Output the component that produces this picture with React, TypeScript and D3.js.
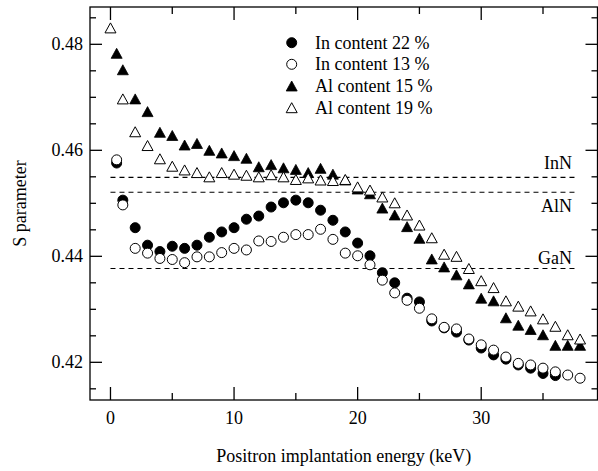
import { useRef, useEffect } from "react";
import * as d3 from "d3";

// energies (keV) and S parameter
const energyIn22 = [0.5, 1, 2, 3, 4, 5, 6, 7, 8, 9, 10, 11, 12, 13, 14, 15, 16, 17, 18, 19, 20, 21, 22, 23, 24, 25, 26, 27, 28, 29, 30, 31, 32, 33, 34, 35, 36];
const sIn22 = [0.4576, 0.4506, 0.4454, 0.4421, 0.4409, 0.4419, 0.4415, 0.4421, 0.4436, 0.4446, 0.4454, 0.447, 0.4476, 0.4493, 0.4501, 0.4506, 0.4501, 0.4487, 0.4468, 0.4446, 0.4425, 0.4401, 0.4369, 0.435, 0.4321, 0.4314, 0.4278, 0.4265, 0.4257, 0.4242, 0.4227, 0.4214, 0.4206, 0.4195, 0.4189, 0.4179, 0.4175];

const energyIn13 = [0.5, 1, 2, 3, 4, 5, 6, 7, 8, 9, 10, 11, 12, 13, 14, 15, 16, 17, 18, 19, 20, 21, 22, 23, 24, 25, 26, 27, 28, 29, 30, 31, 32, 33, 34, 35, 36, 37, 38];
const sIn13 = [0.4582, 0.4497, 0.4415, 0.4406, 0.4396, 0.4394, 0.4388, 0.4399, 0.4399, 0.4407, 0.4415, 0.4412, 0.4429, 0.4428, 0.4436, 0.4441, 0.4441, 0.4451, 0.4432, 0.4406, 0.4401, 0.4384, 0.4355, 0.4331, 0.4317, 0.4302, 0.4282, 0.4266, 0.4263, 0.4244, 0.4233, 0.4223, 0.421, 0.4198, 0.4195, 0.4189, 0.4182, 0.4176, 0.417];

const energyAl15 = [0.5, 1, 2, 3, 4, 5, 6, 7, 8, 9, 10, 11, 12, 13, 14, 15, 16, 17, 18, 19, 20, 21, 22, 23, 24, 25, 26, 27, 28, 29, 30, 31, 32, 33, 34, 35, 36, 37, 38];
const sAl15 = [0.4783, 0.4752, 0.4697, 0.4673, 0.4634, 0.4628, 0.461, 0.4613, 0.46, 0.4595, 0.459, 0.4585, 0.4569, 0.4573, 0.4567, 0.4564, 0.4558, 0.4566, 0.4555, 0.4544, 0.4527, 0.4518, 0.4491, 0.4478, 0.4456, 0.4434, 0.4395, 0.438, 0.4365, 0.4348, 0.4321, 0.4316, 0.4284, 0.427, 0.4262, 0.4252, 0.4232, 0.4232, 0.4232];

const energyAl19 = [0, 1, 2, 3, 4, 5, 6, 7, 8, 9, 10, 11, 12, 13, 14, 15, 16, 17, 18, 19, 20, 21, 22, 23, 24, 25, 26, 27, 28, 29, 30, 31, 32, 33, 34, 35, 36, 37, 38];
const sAl19 = [0.4831, 0.4697, 0.4635, 0.4609, 0.4584, 0.457, 0.4563, 0.4558, 0.455, 0.4558, 0.4555, 0.4553, 0.455, 0.4554, 0.455, 0.4545, 0.4548, 0.4544, 0.4543, 0.4545, 0.4531, 0.4525, 0.4512, 0.4501, 0.4478, 0.4459, 0.4435, 0.4404, 0.44, 0.4377, 0.4354, 0.4341, 0.4316, 0.4306, 0.4297, 0.4282, 0.4268, 0.4252, 0.4244];

const refNames = ["InN", "AlN", "GaN"];
const refValues = [0.4549, 0.4521, 0.4377];
const refRange = [0, 37.8];

const legendLabels = ["In content 22 %", "In content 13 %", "Al content 15 %", "Al content 19 %"];

const xMajor = [0, 10, 20, 30];
const xMinor = [5, 15, 25, 35];
const yMajor = [0.42, 0.44, 0.46, 0.48];
const yMinor = [0.415, 0.425, 0.43, 0.435, 0.445, 0.45, 0.455, 0.465, 0.47, 0.475, 0.485];

const FONT = "'Liberation Serif', 'Times New Roman', serif";

const Chart = () => {
  const svgRef = useRef<SVGSVGElement>(null);
  const width = 598;
  const height = 471;

  useEffect(() => {
    const svg = d3.select(svgRef.current);
    svg.selectAll("*").remove();

    const MARGIN = { TOP: 7, BOTTOM: 71, LEFT: 90, RIGHT: 0.5 };
    const L = MARGIN.LEFT;
    const R = width - MARGIN.RIGHT;
    const T = MARGIN.TOP;
    const B = height - MARGIN.BOTTOM;

    const x = d3.scaleLinear().domain([-1.657, 39.41]).range([L, R]);
    const y = d3.scaleLinear().domain([0.41289, 0.48704]).range([B, T]);

    const g = svg.append("g");

    // reference lines
    refValues.forEach((v, i) => {
      g.append("line")
        .attr("x1", x(refRange[0]))
        .attr("x2", x(refRange[1]))
        .attr("y1", y(v))
        .attr("y2", y(v))
        .attr("stroke", "#000")
        .attr("stroke-width", 1.1)
        .attr("stroke-dasharray", "5,4");
      const dy = i === 0 ? -8 : i === 1 ? 20 : -5;
      g.append("text")
        .attr("x", 572)
        .attr("y", y(v) + dy)
        .attr("text-anchor", "end")
        .attr("font-family", FONT)
        .attr("font-size", 18)
        .text(refNames[i]);
    });

    const tri = (cx: number, cy: number, w = 11, h = 10) =>
      `M${cx},${cy - h / 2}L${cx + w / 2},${cy + h / 2}L${cx - w / 2},${cy + h / 2}Z`;

    // data
    const pts = (xs: number[], ys: number[]) => xs.map((e, i) => ({ e, s: ys[i] }));

    g.selectAll(".in22")
      .data(pts(energyIn22, sIn22))
      .enter()
      .append("circle")
      .attr("cx", (d) => x(d.e))
      .attr("cy", (d) => y(d.s))
      .attr("r", 5)
      .attr("fill", "#000")
      .attr("stroke", "#000");

    g.selectAll(".in13")
      .data(pts(energyIn13, sIn13))
      .enter()
      .append("circle")
      .attr("cx", (d) => x(d.e))
      .attr("cy", (d) => y(d.s))
      .attr("r", 5)
      .attr("fill", "#fff")
      .attr("stroke", "#000")
      .attr("stroke-width", 1);

    g.selectAll(".al15")
      .data(pts(energyAl15, sAl15))
      .enter()
      .append("path")
      .attr("d", (d) => tri(x(d.e), y(d.s)))
      .attr("fill", "#000")
      .attr("stroke", "#000")
      .attr("stroke-width", 0.8);

    g.selectAll(".al19")
      .data(pts(energyAl19, sAl19))
      .enter()
      .append("path")
      .attr("d", (d) => tri(x(d.e), y(d.s)))
      .attr("fill", "#fff")
      .attr("stroke", "#000")
      .attr("stroke-width", 1);

    // frame
    g.append("rect")
      .attr("x", L)
      .attr("y", T)
      .attr("width", R - L)
      .attr("height", B - T)
      .attr("fill", "none")
      .attr("stroke", "#000")
      .attr("stroke-width", 1.3);

    const tick = (x1: number, y1: number, x2: number, y2: number) =>
      g.append("line")
        .attr("x1", x1).attr("y1", y1).attr("x2", x2).attr("y2", y2)
        .attr("stroke", "#000").attr("stroke-width", 1.3);

    xMajor.forEach((v) => {
      tick(x(v), B, x(v), B - 13);
      tick(x(v), T, x(v), T + 13);
      g.append("text")
        .attr("x", x(v))
        .attr("y", B + 24)
        .attr("text-anchor", "middle")
        .attr("font-family", FONT)
        .attr("font-size", 18)
        .text(d3.format("d")(v));
    });
    xMinor.forEach((v) => {
      tick(x(v), B, x(v), B - 7);
      tick(x(v), T, x(v), T + 7);
    });
    yMajor.forEach((v) => {
      tick(L, y(v), L + 12, y(v));
      tick(R, y(v), R - 12, y(v));
      g.append("text")
        .attr("x", L - 7)
        .attr("y", y(v) + 6)
        .attr("text-anchor", "end")
        .attr("font-family", FONT)
        .attr("font-size", 18)
        .text(d3.format(".2f")(v));
    });
    yMinor.forEach((v) => {
      tick(L, y(v), L + 6, y(v));
      tick(R, y(v), R - 6, y(v));
    });

    // axis titles
    g.append("text")
      .attr("x", (L + R) / 2)
      .attr("y", 462)
      .attr("text-anchor", "middle")
      .attr("font-family", FONT)
      .attr("font-size", 18)
      .text("Positron implantation energy (keV)");

    g.append("text")
      .attr("transform", `translate(26, ${(T + B) / 2}) rotate(-90)`)
      .attr("text-anchor", "middle")
      .attr("font-family", FONT)
      .attr("font-size", 18)
      .text("S parameter");

    // legend
    const lx = 291.7;
    const rows = [42.7, 64.3, 86, 107.7];
    legendLabels.forEach((label, i) => {
      const cy = rows[i];
      if (i < 2) {
        g.append("circle")
          .attr("cx", lx)
          .attr("cy", cy)
          .attr("r", 5)
          .attr("fill", i === 0 ? "#000" : "#fff")
          .attr("stroke", "#000");
      } else {
        g.append("path")
          .attr("d", tri(lx, cy))
          .attr("fill", i === 2 ? "#000" : "#fff")
          .attr("stroke", "#000")
          .attr("stroke-width", i === 2 ? 0.8 : 1);
      }
      g.append("text")
        .attr("x", 315)
        .attr("y", cy + 6)
        .attr("font-family", FONT)
        .attr("font-size", 18)
        .text(label);
    });
  }, []);

  return (
    <svg
      ref={svgRef}
      width={width}
      height={height}
      style={{ position: "absolute", left: 0, top: 0, background: "#fff" }}
    />
  );
};

export default function App() {
  return <Chart />;
}
